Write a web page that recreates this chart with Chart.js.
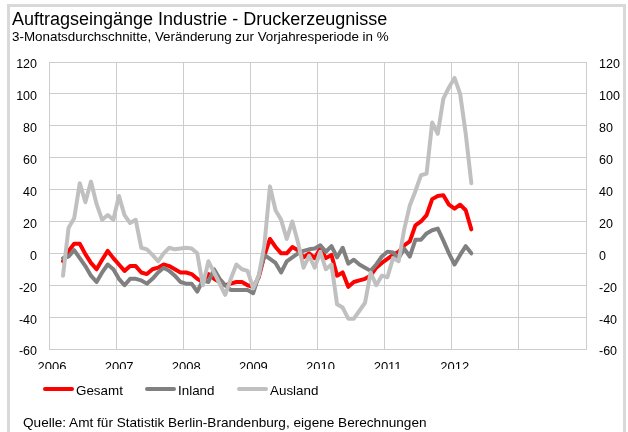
<!DOCTYPE html>
<html>
<head>
<meta charset="utf-8">
<script src="https://cdn.jsdelivr.net/npm/chart.js@4/dist/chart.umd.min.js"></script>
<style>
  html, body { margin: 0; padding: 0; background: #fff; }
  #wrap { position: relative; width: 628px; height: 432px; overflow: hidden; background: #fff;
          font-family: "Liberation Sans", Arial, Helvetica, sans-serif; color: #000; }
  #frame { position: absolute; left: 7px; top: 4px; width: 619px; height: 440px; border: 3px solid #D9D9D9; box-sizing: border-box; }
  #c { position: absolute; left: 0; top: 0; }
  .txt { position: absolute; white-space: nowrap; }
  #title { left: 12px; top: 10px; font-size: 18px; line-height: 18px; }
  #subtitle { left: 12px; top: 30px; font-size: 13.4px; line-height: 13px; }
  #source { left: 23px; top: 416px; font-size: 13.6px; line-height: 13px; }
  .leg { position: absolute; top: 384px; height: 14px; font-size: 13.4px; line-height: 14px; white-space: nowrap; }
  .leg i { position: absolute; left: 0; top: 3px; width: 31px; height: 4px; border-radius: 2px; }
  .leg span { position: absolute; left: 33px; top: 0; }
</style>
</head>
<body>
<div id="wrap">
  <div id="frame"></div>
  <canvas id="c" width="628" height="432"></canvas>
  <div class="txt" id="title">Auftragseingänge Industrie - Druckerzeugnisse</div>
  <div class="txt" id="subtitle">3-Monatsdurchschnitte, Veränderung zur Vorjahresperiode in %</div>
  <div id="legend"></div>
  <div class="txt" id="source">Quelle: Amt für Statistik Berlin-Brandenburg, eigene Berechnungen</div>
</div>
<script>
const categories = [
  '2006-03','2006-04','2006-05','2006-06','2006-07','2006-08','2006-09','2006-10','2006-11','2006-12',
  '2007-01','2007-02','2007-03','2007-04','2007-05','2007-06','2007-07','2007-08','2007-09','2007-10','2007-11','2007-12',
  '2008-01','2008-02','2008-03','2008-04','2008-05','2008-06','2008-07','2008-08','2008-09','2008-10','2008-11','2008-12',
  '2009-01','2009-02','2009-03','2009-04','2009-05','2009-06','2009-07','2009-08','2009-09','2009-10','2009-11','2009-12',
  '2010-01','2010-02','2010-03','2010-04','2010-05','2010-06','2010-07','2010-08','2010-09','2010-10','2010-11','2010-12',
  '2011-01','2011-02','2011-03','2011-04','2011-05','2011-06','2011-07','2011-08','2011-09','2011-10','2011-11','2011-12',
  '2012-01','2012-02','2012-03','2012-04'
];

const gesamt = [
  -5, 1.5, 6, 6, -0.5, -6, -10, -4, 1.5, -3,
  -7, -11, -8, -8, -12, -13, -10, -9, -7, -8, -10, -12,
  -12, -13, -16, -18, -13, -16, -18, -20, -19, -18, -18, -20,
  -21, -15, -1.5, 9, 4, 0, 0, 4, 2, -2.5, 0, -3,
  3, -3, -1, -14, -12, -21, -18, -17, -16, -14, -9, -6,
  -3.5, -1, 1, 5, 7.5, 17.5, 20, 24, 34, 36, 36.5, 30.5,
  28, 30.5, 27, 15
];

const inland = [
  -3, -2, 2, -3, -8, -14, -18, -12, -7, -10,
  -16, -20, -16, -16, -17, -19, -16, -12, -9, -11, -14, -18,
  -19, -19, -24, -17, -18, -10, -16, -20, -23, -23, -23, -23,
  -25, -14, -1, -3.5, -6, -12, -5, -2.5, 0, 1.5, 2.5, 3,
  5, 1, 4.5, -2.5, 3.5, -6.5, -4, -7, -9, -11, -7, -2,
  1, 0.5, -3, 3, -2, 8.5, 8.5, 12.5, 14.5, 15.5, 8, 0,
  -7, -1, 4.5, 0
];

const ausland = [
  -14, 16, 22, 44, 32, 45, 31, 21, 24, 21,
  36, 24, 19, 21, 3.5, 2.5, -1, -5, 0, 3.5, 2.5, 3,
  3.5, 3, 0, -20, -5, -12, -19, -26, -16, -7, -10, -11,
  -22, -14, 5, 42, 27, 21, 9, 20, 7, -9, -1.5, -9,
  1, -10, -7, -32, -34, -41, -41, -36, -31, -12, -20, -14,
  -15, -3, -5, 15, 30, 39, 49, 50, 82, 75, 97, 104,
  110, 100, 75, 44
];

const yearLabels = ['2006','2007','2008','2009','2010','2011','2012'];
const yTickValues = [-60, -40, -20, 0, 20, 40, 60, 80, 100, 120];

const seriesNames = ['Gesamt', 'Inland', 'Ausland'];
const seriesColors = ['#FF0000', '#808080', '#C0C0C0'];
const seriesValues = [gesamt, inland, ausland];

const firstYear = parseInt(yearLabels[0], 10);
function monthPos(cat) {
  const [y, m] = cat.split('-').map(Number);
  return (y - firstYear) * 12 + (m - 1) + 0.5;
}

const FONT = '"Liberation Sans", Arial, Helvetica, sans-serif';
Chart.defaults.font.family = FONT;
Chart.defaults.font.size = 13;
Chart.defaults.color = '#000';

const datasets = seriesNames.map((name, k) => ({
  label: name,
  data: categories.map((c, i) => ({ x: monthPos(c), y: seriesValues[k][i] })),
  borderColor: seriesColors[k],
  backgroundColor: seriesColors[k],
  borderWidth: 4,
  pointRadius: 0,
  pointHoverRadius: 0,
  tension: 0,
  fill: false,
  borderJoinStyle: 'round',
  borderCapStyle: 'round',
  order: 2 - k
}));

const gridColor = '#CCCCCC';
const yMin = yTickValues[0], yMax = yTickValues[yTickValues.length - 1];

new Chart(document.getElementById('c'), {
  type: 'line',
  data: { datasets },
  options: {
    responsive: false,
    animation: false,
    devicePixelRatio: 1,
    layout: { padding: { left: 0, right: 0, top: 62, bottom: 63 } },
    plugins: { legend: { display: false }, tooltip: { enabled: false }, title: { display: false } },
    scales: {
      x: {
        type: 'linear',
        min: 0,
        max: yearLabels.length * 12 + 12,
        afterBuildTicks: s => { s.ticks = yearLabels.concat(['']).map((_, i) => ({ value: i * 12 })); },
        afterFit: s => { s.height = 20; },
        grid: { color: gridColor, lineWidth: 1, drawTicks: false },
        border: { display: true, color: gridColor },
        ticks: {
          padding: 11,
          labelOffset: 3,
          maxRotation: 0,
          autoSkip: false,
          font: { size: 13 },
          callback: v => yearLabels[v / 12] || ''
        }
      },
      y: {
        position: 'left',
        min: yMin, max: yMax,
        afterBuildTicks: s => { s.ticks = yTickValues.map(v => ({ value: v })); },
        afterFit: s => { s.width = 49; },
        grid: { color: gridColor, lineWidth: 1, drawTicks: false },
        border: { display: true, color: gridColor },
        ticks: { padding: 12, labelOffset: 3, font: { size: 12.5 }, callback: v => String(v) }
      },
      y2: {
        position: 'right',
        min: yMin, max: yMax,
        afterBuildTicks: s => { s.ticks = yTickValues.map(v => ({ value: v })); },
        afterFit: s => { s.width = 42; },
        grid: { display: false, drawTicks: false },
        border: { display: true, color: gridColor },
        ticks: { padding: 13, labelOffset: 3, font: { size: 12.5 }, callback: v => String(v) }
      }
    }
  }
});

// legend built from the series
const legendLeft = [43, 145, 237];
const legend = document.getElementById('legend');
seriesNames.forEach((name, k) => {
  const d = document.createElement('div');
  d.className = 'leg';
  d.style.left = legendLeft[k] + 'px';
  const sw = document.createElement('i');
  sw.style.background = seriesColors[k];
  const t = document.createElement('span');
  t.textContent = name;
  d.appendChild(sw); d.appendChild(t);
  legend.appendChild(d);
});
</script>
</body>
</html>
